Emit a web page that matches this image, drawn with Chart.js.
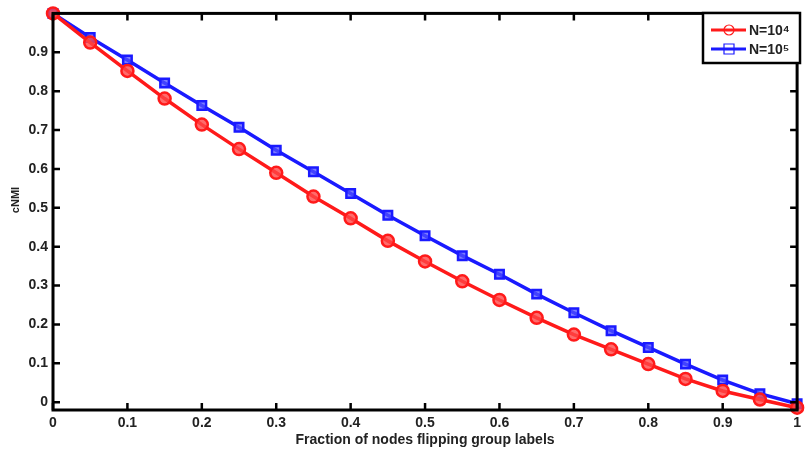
<!DOCTYPE html>
<html>
<head>
<meta charset="utf-8">
<script src="https://cdn.jsdelivr.net/npm/chart.js@4.4.0/dist/chart.umd.min.js"></script>
<style>
  html, body { margin: 0; padding: 0; background: #fff; }
  #wrap { width: 806px; height: 454px; }
</style>
</head>
<body>
<div id="wrap"><canvas id="nmi"></canvas></div>
<script>
const fractions = [0, 0.05, 0.1, 0.15, 0.2, 0.25, 0.3, 0.35, 0.4, 0.45, 0.5,
                   0.55, 0.6, 0.65, 0.7, 0.75, 0.8, 0.85, 0.9, 0.95, 1];
const cnmiN4 = [1.0, 0.925, 0.852, 0.781, 0.714, 0.651, 0.590, 0.529, 0.473, 0.415, 0.362,
                0.311, 0.263, 0.217, 0.174, 0.136, 0.098, 0.060, 0.029, 0.007, -0.014];
const cnmiN5 = [1.0, 0.938, 0.880, 0.821, 0.763, 0.707, 0.648, 0.593, 0.537, 0.481, 0.428,
                0.377, 0.329, 0.278, 0.230, 0.184, 0.141, 0.098, 0.057, 0.022, -0.004];
const xTicks = [0, 0.1, 0.2, 0.3, 0.4, 0.5, 0.6, 0.7, 0.8, 0.9, 1];
const yTicks = [0, 0.1, 0.2, 0.3, 0.4, 0.5, 0.6, 0.7, 0.8, 0.9];
const seriesNames = ['N=10\u2074', 'N=10\u2075'];

const RED = '#ff1a1a';
const BLUE = '#1a1aff';
const FAMILY = '"Liberation Sans", Arial, sans-serif';

function toPoints(ys) {
    return fractions.map((x, i) => ({ x: x, y: ys[i] }));
}

// box around the plot with inward ticks on all four sides, y label and the legend
const matlabFrame = {
    id: 'matlabFrame',
    afterDatasetsDraw(chart) {
        const ctx = chart.ctx;
        const a = chart.chartArea;
        const xs = chart.scales.x;
        const ys = chart.scales.y;
        const tick = 7;
        ctx.save();
        ctx.strokeStyle = '#000';
        ctx.lineWidth = 3;
        ctx.strokeRect(a.left, a.top, a.right - a.left, a.bottom - a.top);
        ctx.lineWidth = 2.5;
        ctx.beginPath();
        xTicks.forEach(v => {
            const px = xs.getPixelForValue(v);
            ctx.moveTo(px, a.bottom); ctx.lineTo(px, a.bottom - tick);
            ctx.moveTo(px, a.top); ctx.lineTo(px, a.top + tick);
        });
        yTicks.forEach(v => {
            const py = ys.getPixelForValue(v);
            ctx.moveTo(a.left, py); ctx.lineTo(a.left + tick, py);
            ctx.moveTo(a.right, py); ctx.lineTo(a.right - tick, py);
        });
        ctx.stroke();

        // y axis label
        ctx.save();
        ctx.translate(16, 200);
        ctx.rotate(-Math.PI / 2);
        ctx.fillStyle = '#222';
        ctx.font = 'bold 11px ' + FAMILY;
        ctx.textAlign = 'center';
        ctx.textBaseline = 'middle';
        ctx.fillText('cNMI', 0, 0);
        ctx.restore();

        // legend
        const lx = 703, ly = 13, lw = 97, lh = 50;
        ctx.fillStyle = '#fff';
        ctx.fillRect(lx, ly, lw, lh);
        ctx.strokeStyle = '#000';
        ctx.lineWidth = 2.5;
        ctx.strokeRect(lx, ly, lw, lh);
        const rows = [
            { color: RED, shape: 'circle', label: seriesNames[0], y: ly + 17 },
            { color: BLUE, shape: 'square', label: seriesNames[1], y: ly + 36 }
        ];
        rows.forEach(r => {
            ctx.strokeStyle = r.color;
            ctx.lineWidth = 3;
            ctx.beginPath();
            ctx.moveTo(lx + 8, r.y); ctx.lineTo(lx + 43, r.y);
            ctx.stroke();
            ctx.lineWidth = 1.2;
            ctx.beginPath();
            if (r.shape === 'circle') {
                ctx.arc(lx + 26, r.y, 5, 0, Math.PI * 2);
            } else {
                ctx.rect(lx + 21, r.y - 5, 10, 10);
            }
            ctx.stroke();
            ctx.fillStyle = '#222';
            ctx.font = 'bold 14px ' + FAMILY;
            ctx.textBaseline = 'middle';
            ctx.textAlign = 'left';
            ctx.fillText(r.label, lx + 46, r.y + 1);
        });
        ctx.restore();
    }
};

new Chart(document.getElementById('nmi'), {
    type: 'line',
    data: {
        datasets: [
            {
                label: seriesNames[0],
                data: toPoints(cnmiN4),
                borderColor: RED,
                borderWidth: 3.5,
                pointStyle: 'circle',
                pointRadius: 6,
                pointBorderWidth: 2.5,
                pointBorderColor: RED,
                pointBackgroundColor: 'rgba(255,70,70,0.8)',
                clip: false,
                tension: 0
            },
            {
                label: seriesNames[1],
                data: toPoints(cnmiN5),
                borderColor: BLUE,
                borderWidth: 3.5,
                pointStyle: 'rect',
                pointRadius: 6,
                pointBorderWidth: 2.5,
                pointBorderColor: BLUE,
                pointBackgroundColor: 'rgba(80,80,255,0.75)',
                clip: false,
                tension: 0
            }
        ]
    },
    options: {
        responsive: true,
        maintainAspectRatio: false,
        animation: false,
        layout: { padding: { top: 9, right: 3, left: 0, bottom: 0 } },
        plugins: {
            legend: { display: false },
            tooltip: { enabled: false }
        },
        scales: {
            x: {
                type: 'linear',
                min: 0,
                max: 1,
                grid: { display: false, drawTicks: false },
                border: { display: false },
                afterBuildTicks: s => { s.ticks = xTicks.map(v => ({ value: v })); },
                afterFit: s => { s.height = 44; },
                ticks: {
                    color: '#222',
                    font: { family: FAMILY, size: 14, weight: 'bold' },
                    padding: 5,
                    maxRotation: 0,
                    callback: v => String(v)
                },
                title: {
                    display: true,
                    text: 'Fraction of nodes flipping group labels',
                    color: '#222',
                    font: { family: FAMILY, size: 14, weight: 'bold' },
                    padding: { top: 0, bottom: 5 }
                }
            },
            y: {
                type: 'linear',
                min: -0.02,
                max: 1,
                grid: { display: false, drawTicks: false },
                border: { display: false },
                afterBuildTicks: s => { s.ticks = yTicks.map(v => ({ value: v })); },
                afterFit: s => { s.width = 53; },
                ticks: {
                    color: '#222',
                    font: { family: FAMILY, size: 14, weight: 'bold' },
                    padding: 5,
                    callback: v => String(v)
                }
            }
        }
    },
    plugins: [matlabFrame]
});
</script>
</body>
</html>
